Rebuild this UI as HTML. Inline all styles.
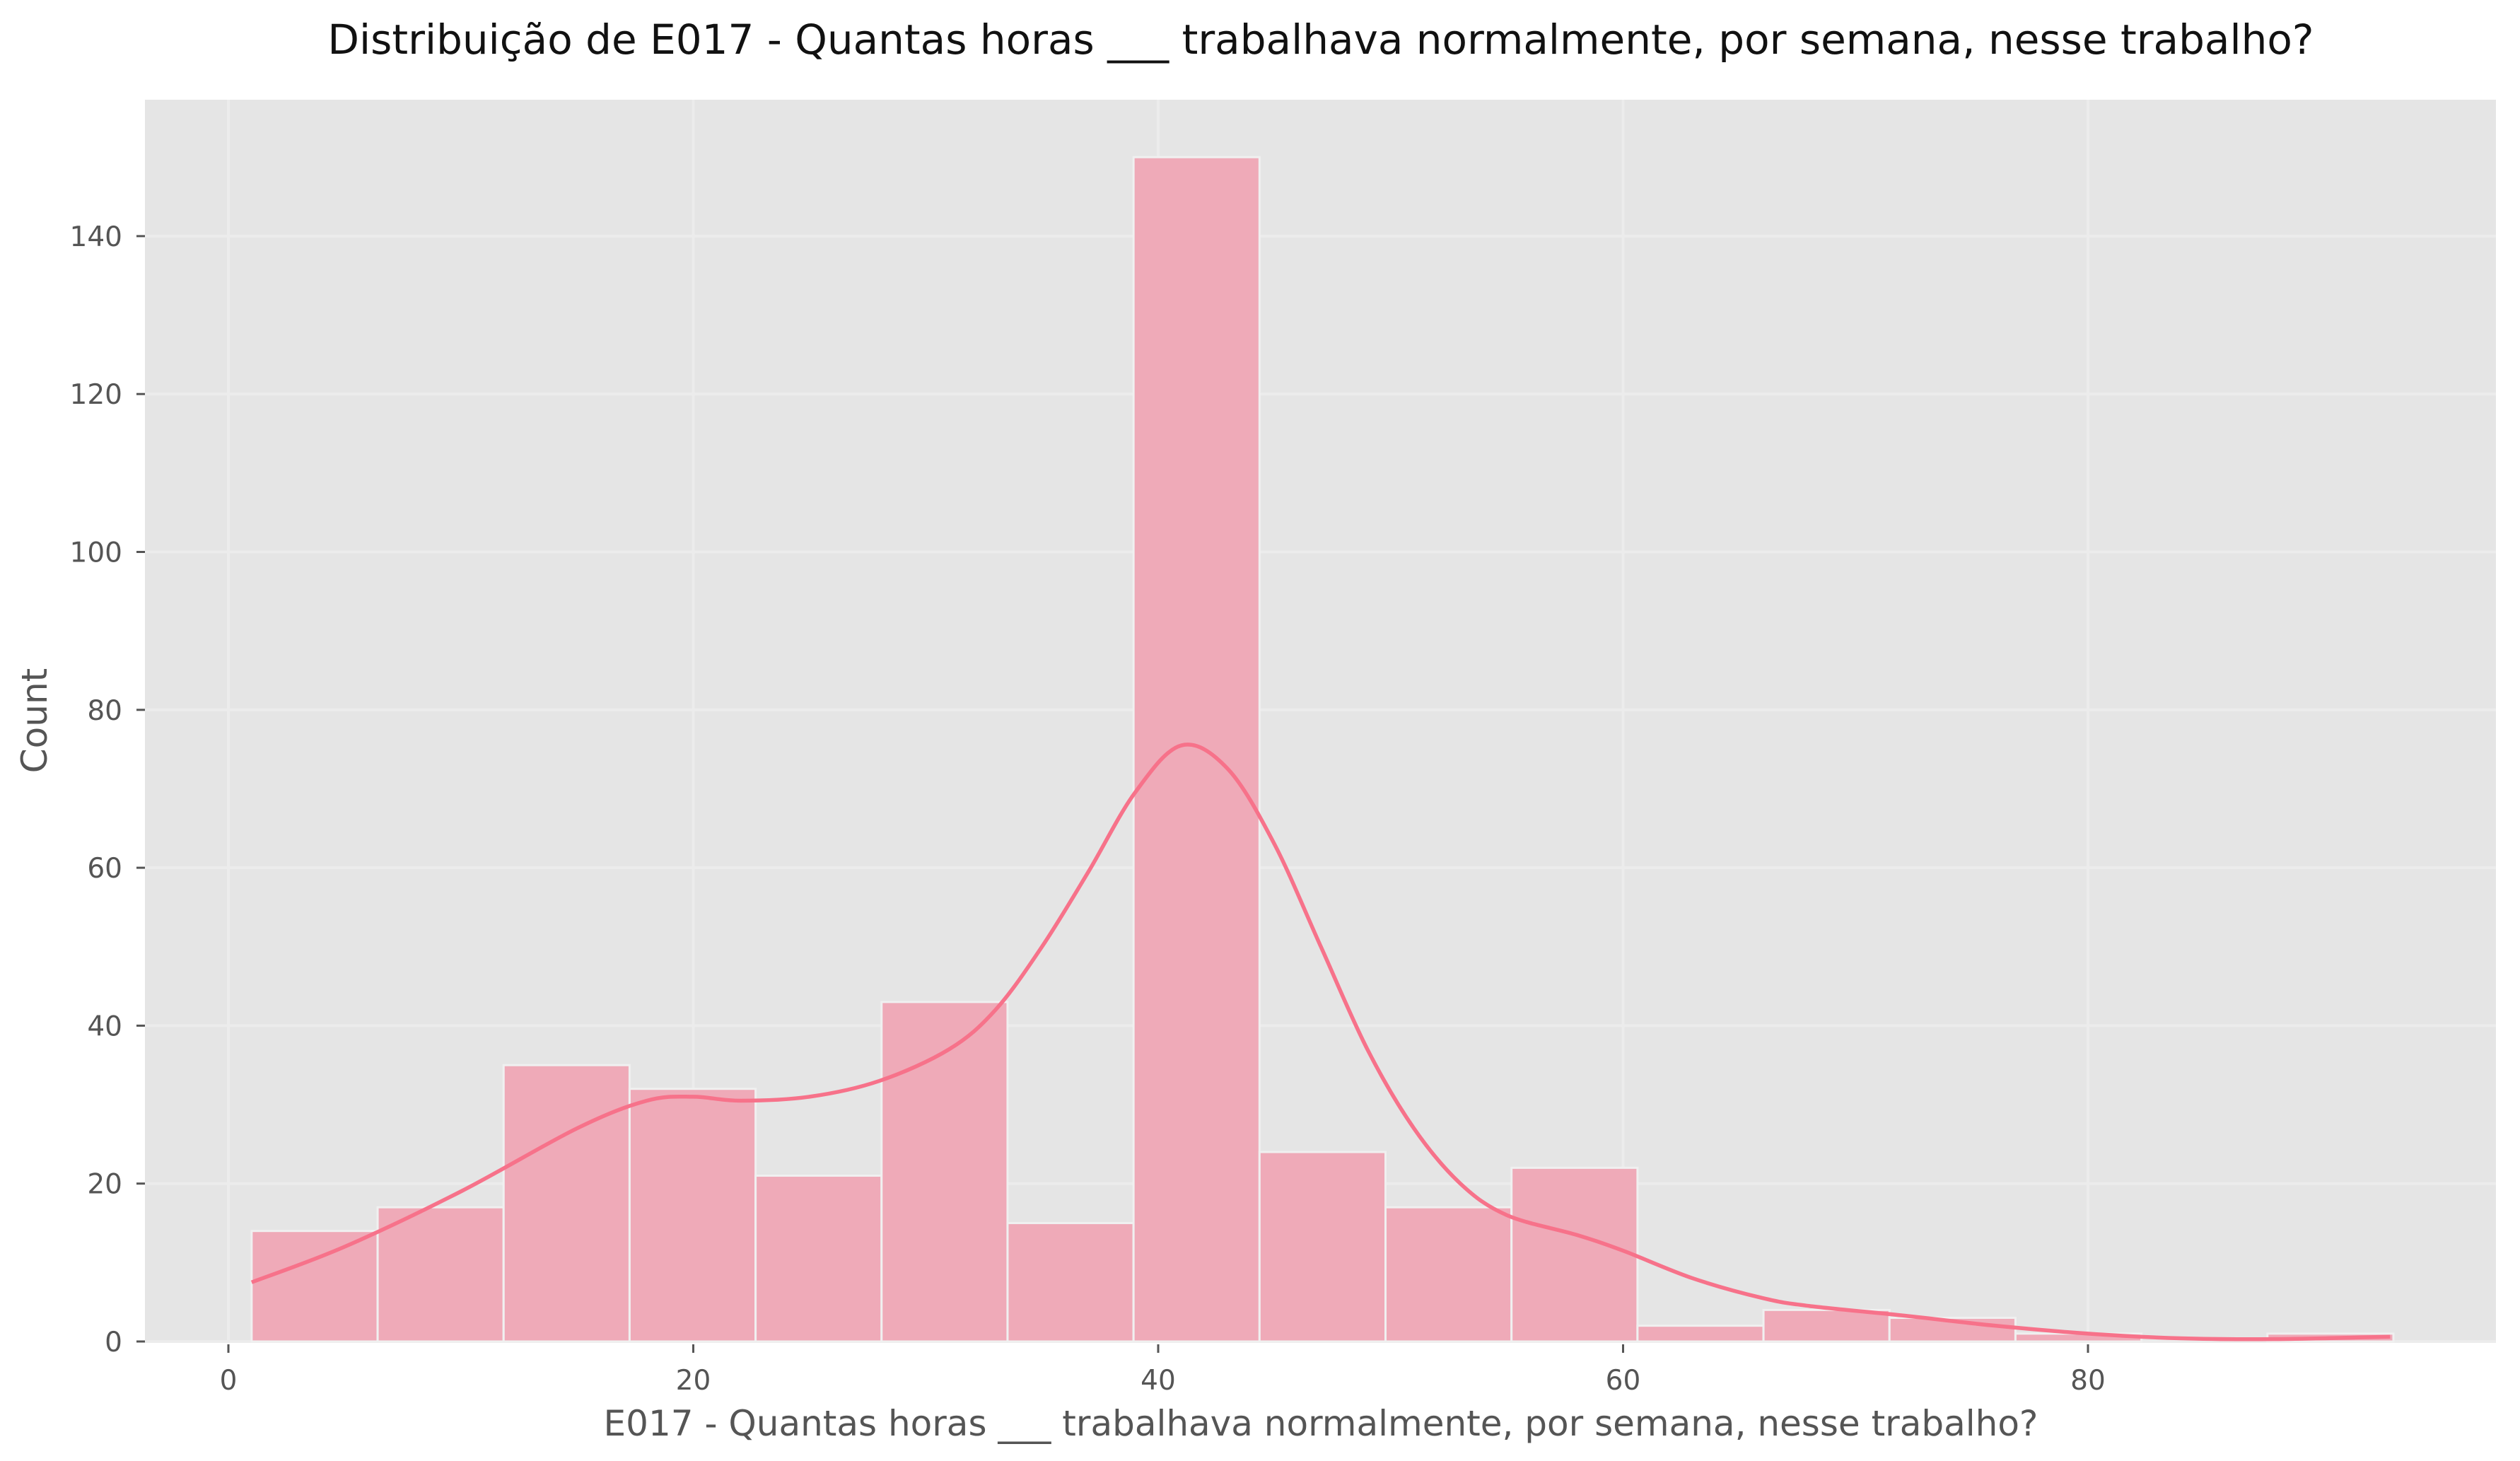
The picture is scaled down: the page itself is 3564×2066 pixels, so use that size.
<!DOCTYPE html>
<html><head><meta charset="utf-8"><style>
html,body{margin:0;padding:0;background:#fff;}
svg{display:block;font-family:"DejaVu Sans","Liberation Sans",sans-serif;}
</style></head><body>
<svg id="chart" width="3564" height="2066" viewBox="0 0 3564 2066">
<rect x="205" y="141" width="3325" height="1756" fill="#e5e5e5"/>
<g id="grid"></g><g id="bars"></g><g id="kde"></g><g id="axes"></g>
<text x="1868" y="76" text-anchor="middle" font-size="58" fill="#111">Distribuição de E017 - Quantas horas ___ trabalhava normalmente, por semana, nesse trabalho?</text>
<text x="1868" y="2030" text-anchor="middle" font-size="50" fill="#555">E017 - Quantas horas ___ trabalhava normalmente, por semana, nesse trabalho?</text>
<text transform="translate(66,1019) rotate(-90)" text-anchor="middle" font-size="50" fill="#555">Count</text>
</svg>
<script>
const binStart = 1.0;
const binWidth = 5.42;
const counts = [14,17,35,32,21,43,15,150,24,17,22,2,4,3,1,0,1];
const xTicks = [0,20,40,60,80];
const yTicks = [0,20,40,60,80,100,120,140];
const kdeX = [1,5,10,15,18,20,22,25,28,31,33,35,37,39,41,43,45,47,49,51,53,55,58,60,63,66,68,72,76,80,84,88,93];
const kdeY = [7.5,12,19,27,30.5,31,30.5,31,33,37,42,50,59.5,69.5,75.5,72.5,63,50,37,27,20,16,13.5,11.5,8,5.5,4.5,3.3,2,1,0.4,0.3,0.6];

const NS="http://www.w3.org/2000/svg";
const L=205,R=3530,T=141,B=1897;
const xs=v=>323+v*32.875;
const ys=v=>B-v*11.165;
function mk(tag,attrs,parent){const e=document.createElementNS(NS,tag);for(const k in attrs)e.setAttribute(k,attrs[k]);parent.appendChild(e);return e;}
const grid=document.getElementById('grid'),bars=document.getElementById('bars'),kde=document.getElementById('kde'),axes=document.getElementById('axes');
yTicks.forEach(t=>{
  const g=mk('line',{x1:L,x2:R,y1:ys(t),y2:ys(t),stroke:'#ececec','stroke-width':4},grid);
  
  
  const tk=mk('line',{x1:L-12,x2:L,y1:ys(t),y2:ys(t),stroke:'#555','stroke-width':3},axes);
  
  
  const tx=mk('text',{x:L-32,y:ys(t)+14,'text-anchor':'end','font-size':39,fill:'#555'},axes);
  tx.textContent=t;
  
  
});
xTicks.forEach(t=>{
  const g=mk('line',{x1:xs(t),x2:xs(t),y1:T,y2:B,stroke:'#ececec','stroke-width':4},grid);
  
  
  const tk=mk('line',{x1:xs(t),x2:xs(t),y1:B+4,y2:B+16,stroke:'#555','stroke-width':3},axes);
  
  
  const tx=mk('text',{x:xs(t),y:B+68,'text-anchor':'middle','font-size':39,fill:'#555'},axes);
  tx.textContent=t;
  
  
});
counts.forEach((c,i)=>{
  if(c<=0)return;
  const x0=xs(binStart+i*binWidth),x1=xs(binStart+(i+1)*binWidth);
  const r=mk('rect',{x:x0,y:ys(c),width:x1-x0,height:B-ys(c),fill:'#efaab8',stroke:'#f0f0f0','stroke-width':3},bars);
  
  
});
const pts=kdeX.map((x,i)=>[xs(x),ys(kdeY[i])]);
let d='M'+pts[0][0]+','+pts[0][1];
for(let i=0;i<pts.length-1;i++){
  const p0=pts[Math.max(0,i-1)],p1=pts[i],p2=pts[i+1],p3=pts[Math.min(pts.length-1,i+2)];
  const c1=[p1[0]+(p2[0]-p0[0])/6,p1[1]+(p2[1]-p0[1])/6],c2=[p2[0]-(p3[0]-p1[0])/6,p2[1]-(p3[1]-p1[1])/6];
  d+=' C'+c1+' '+c2+' '+p2;
}
const path=mk('path',{d:d,fill:'none',stroke:'#f7728a','stroke-width':5.5},kde);


</script>
</body></html>
